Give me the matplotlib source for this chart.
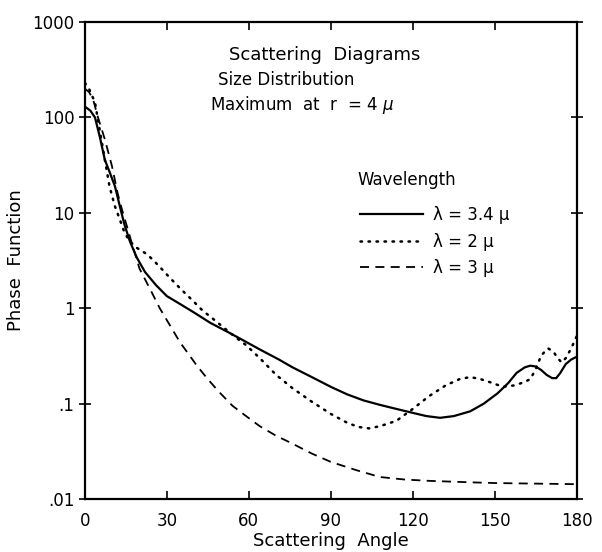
import matplotlib
matplotlib.use("Agg")
import matplotlib.pyplot as plt

# angle (deg) / phase function
ang_34 = [0, 2, 3.7, 5.5, 7.3, 9, 11, 12.8, 14.5, 16.5, 19, 22, 26, 30, 35, 40, 46, 52, 58,
          64, 71, 76, 83, 90, 96, 102, 108, 114, 120, 125, 130, 135, 141, 146, 151, 155,
          158, 161, 163, 165, 167, 169, 171, 172.5, 174, 176, 178, 180]
pf_34 = [130, 118, 100, 62, 36, 27, 19, 11.7, 7.5, 5.0, 3.4, 2.4, 1.75, 1.34, 1.1, 0.9, 0.7,
         0.57, 0.46, 0.37, 0.29, 0.24, 0.19, 0.15, 0.125, 0.108, 0.097, 0.088, 0.08, 0.074,
         0.071, 0.074, 0.083, 0.1, 0.128, 0.165, 0.21, 0.24, 0.25, 0.245, 0.225, 0.2, 0.185,
         0.185, 0.21, 0.26, 0.29, 0.31]

ang_2 = [0, 1.5, 3.7, 6.2, 9, 11, 12.8, 14.5, 16.5, 19, 22.6, 25, 28, 31, 35, 39.5, 43,
         47, 51, 55, 59, 64, 70, 76, 83, 90, 96, 100, 104, 108, 114, 120, 126, 132, 137,
         141, 145, 149, 153, 157, 160, 163, 165, 167, 169.5, 171.5, 173, 174.5, 176, 178, 180]
pf_2 = [230, 200, 144, 55, 19, 11.7, 8.5, 6.2, 5.0, 4.3, 3.7, 3.2, 2.6, 2.1, 1.6, 1.2,
        0.95, 0.77, 0.62, 0.5, 0.41, 0.3, 0.2, 0.145, 0.105, 0.078, 0.063, 0.057, 0.055,
        0.058, 0.066, 0.088, 0.12, 0.155, 0.18, 0.19, 0.18, 0.165, 0.15, 0.155, 0.165, 0.18,
        0.23, 0.32, 0.38, 0.35, 0.3, 0.27, 0.3, 0.38, 0.51]

ang_3 = [0, 1.5, 3, 4.8, 7.3, 9.9, 12, 13.5, 15.4, 17, 20, 23.8, 27.4, 30, 34.8, 41, 45,
         49.4, 54, 59, 64, 70, 76, 83, 90, 99.5, 108, 117, 126, 140, 150, 165, 180]
pf_3 = [200, 185, 155, 100, 59, 31, 16, 11, 7.2, 5, 2.6, 1.6, 1.0, 0.75, 0.44, 0.25, 0.18,
        0.13, 0.095, 0.074, 0.058, 0.046, 0.038, 0.03, 0.0245, 0.02, 0.017, 0.016, 0.0155,
        0.015, 0.0147, 0.0145, 0.0143]

xticks = [0, 30, 60, 90, 120, 150, 180]
yticks = [0.01, 0.1, 1, 10, 100, 1000]
ylabels = ['.01', '.1', '1', '10', '100', '1000']

plt.rcParams['font.family'] = ['DejaVu Sans']
fig = plt.figure(figsize=(6.02, 5.52), dpi=100)
ax = fig.add_axes([0.141, 0.096, 0.817, 0.864])

ax.plot(ang_34, pf_34, color='k', lw=1.6, ls='-', label='λ = 3.4 μ')
ax.plot(ang_2, pf_2, color='k', lw=1.8, ls=(0, (0.6, 2.6)), dash_capstyle='round',
        label='λ = 2 μ')
ax.plot(ang_3, pf_3, color='k', lw=1.3, ls=(0, (5, 3.5)), label='λ = 3 μ')

ax.set_yscale('log')
ax.set_xlim(0, 180)
ax.set_ylim(0.01, 1000)
ax.set_xticks(xticks)
ax.set_yticks(yticks)
ax.set_yticklabels(ylabels)
ax.minorticks_off()
ax.tick_params(axis='both', direction='in', length=6, width=1.2, labelsize=12,
               top=True, right=True)
ax.tick_params(axis='x', pad=9)
ax.tick_params(axis='y', direction='inout', length=8)
for s in ax.spines.values():
    s.set_linewidth(1.6)

ax.set_xlabel('Scattering  Angle', fontsize=13)
ax.xaxis.set_label_coords(0.5, -0.07)
ax.set_ylabel('Phase  Function', fontsize=13)
ax.yaxis.set_label_coords(-0.122, 0.5)

ax.text(0.488, 0.931, 'Scattering  Diagrams', transform=ax.transAxes, ha='center',
        va='center', fontsize=13)
ax.text(0.27, 0.878, 'Size Distribution', transform=ax.transAxes, ha='left',
        va='center', fontsize=12)
ax.text(0.254, 0.826, 'Maximum  at  r  = 4 $\\mu$', transform=ax.transAxes, ha='left',
        va='center', fontsize=12)
ax.text(0.555, 0.669, 'Wavelength', transform=ax.transAxes, ha='left',
        va='center', fontsize=12)

ax.legend(loc='upper left', bbox_to_anchor=(0.559, 0.614), frameon=False,
          fontsize=12, handlelength=3.8, handletextpad=0.6, labelspacing=0.5,
          borderpad=0, borderaxespad=0)

fig.savefig('out.png', dpi=100)
